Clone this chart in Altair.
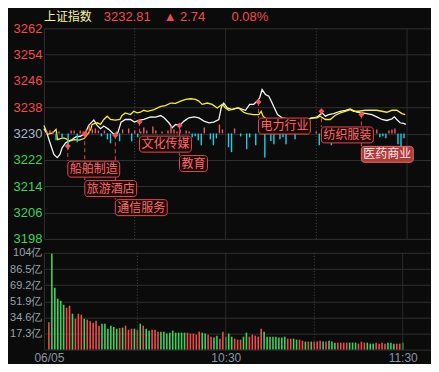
import altair as alt
import pandas as pd

# ---------------- data ----------------
header_text = ["上证指数", "3232.81", "▲ 2.74", "0.08%"]
prev_close = 3230.07
price_ticks = [3198, 3206, 3214, 3222, 3230, 3238, 3246, 3254, 3262]
vol_ticks = [0, 17.3, 34.6, 51.9, 69.2, 86.5, 104]
time_ticks = [0, 60, 120]
time_labels = ["06/05", "10:30", "11:30"]
solid_vlines = [60, 120]
dotted_vlines = [30, 90]

white_min = [0, 1.1, 2.2, 3.3, 4.4, 5.3, 6.0, 7.2, 8.2, 9.3, 10.5, 12.1, 13.7, 14.8, 16.5, 17.6, 18.7, 19.8, 21.4, 23.1,
             24.4, 25.5, 26.9, 28.6, 29.9, 31.3, 33.0, 35.3, 36.9, 38.6, 39.7, 41.3, 42.4, 43.5, 44.9, 46.3, 47.9, 49.6, 51.2, 52.9,
             54.5, 56.1, 57.8, 58.7, 59.4, 60.6, 62.2, 63.9, 64.9, 66.6, 68.0, 69.3, 70.5, 71.3, 72.1, 73.2, 74.3, 75.1, 75.9, 77.2,
             78.7, 81.4, 84.7, 88.0, 90.2, 91.9, 93.0, 94.1, 95.7, 97.9, 99.6, 101.2, 102.3, 103.4, 105.1, 106.7, 108.4, 110.0, 111.7, 113.3,
             115.0, 115.8, 116.6, 117.7, 118.8, 119.6]
white_price = [3231.5, 3229.8, 3226.7, 3223.7, 3222.7, 3223.7, 3225.7, 3227.2, 3227.7, 3228.2, 3229.0, 3229.2, 3230.2, 3232.5, 3234.1, 3232.5, 3231.5, 3232.3, 3231.3, 3229.8,
               3230.2, 3233.5, 3234.3, 3234.3, 3233.5, 3234.0, 3234.3, 3235.1, 3235.0, 3235.5, 3234.8, 3233.3, 3231.8, 3232.8, 3232.5, 3233.8, 3234.8, 3235.1, 3234.8, 3233.8,
               3233.3, 3233.5, 3234.3, 3238.3, 3239.3, 3237.8, 3237.3, 3237.8, 3237.6, 3237.1, 3238.9, 3238.9, 3239.9, 3240.9, 3243.4, 3241.9, 3241.4, 3239.9, 3238.3, 3235.8,
               3234.8, 3234.3, 3234.3, 3234.6, 3235.0, 3236.3, 3235.3, 3235.8, 3236.1, 3236.8, 3237.1, 3237.5, 3237.0, 3236.5, 3236.3, 3236.1, 3235.8, 3235.1, 3234.3, 3234.0,
               3234.5, 3235.1, 3234.3, 3233.3, 3233.1, 3232.8]

yellow_min = [0, 1.2, 2.9, 4.0, 4.5, 6.2, 7.3, 8.3, 10.0, 11.6, 13.3, 14.4, 15.5, 15.9, 17.6, 18.7, 19.8, 20.9, 22.0, 23.6,
              25.1, 25.8, 26.9, 28.6, 29.7, 30.8, 31.9, 33.0, 34.2, 36.4, 38.6, 40.2, 41.9, 43.5, 45.2, 46.8, 48.5, 50.1, 51.2, 52.3,
              54.0, 55.6, 57.3, 58.9, 60.0, 61.1, 62.7, 64.4, 66.0, 67.2, 69.3, 71.0, 71.8, 72.4, 73.8, 75.9, 79.2, 83.4, 86.9, 88.6,
              90.2, 91.3, 93.0, 94.6, 96.3, 97.9, 99.6, 101.2, 102.3, 104.0, 106.2, 108.4, 110.0, 111.7, 113.3, 115.0, 116.6, 118.3, 119.4]
yellow_price = [3232.5, 3229.8, 3230.2, 3231.3, 3228.2, 3228.7, 3228.5, 3227.7, 3228.2, 3228.0, 3228.5, 3229.8, 3231.3, 3232.8, 3233.3, 3232.8, 3234.3, 3235.3, 3234.3, 3234.1,
                3234.3, 3235.5, 3236.3, 3235.8, 3236.8, 3236.3, 3236.5, 3237.1, 3236.8, 3237.3, 3238.3, 3238.5, 3239.3, 3239.2, 3239.9, 3240.4, 3240.6, 3240.4, 3239.9, 3238.9,
                3239.3, 3238.9, 3237.8, 3238.9, 3237.8, 3237.1, 3237.5, 3237.8, 3236.5, 3236.1, 3235.8, 3235.8, 3236.8, 3235.3, 3234.3, 3234.3, 3234.3, 3234.1, 3234.3, 3234.8,
                3234.8, 3235.3, 3234.3, 3234.3, 3235.6, 3236.3, 3236.8, 3237.3, 3236.8, 3236.8, 3237.1, 3237.1, 3237.1, 3236.8, 3236.5, 3237.1, 3237.1, 3236.1, 3235.8]

strength_min = [1, 2, 3, 4, 5, 6, 8, 9, 10, 11, 12, 13, 14, 15, 16, 17, 18, 19, 20, 21, 22, 24, 25, 26, 28, 29, 30, 31, 32, 33, 34,
                36, 37, 39, 41, 42, 43, 44, 45, 47, 48, 49, 50, 51, 52, 53, 55, 56, 57, 58, 59, 61, 62, 63, 65, 67, 68, 70,
                73, 75, 76, 78, 79, 80, 83, 90, 91, 95, 110, 111, 112, 113, 114, 115, 116, 117, 118, 119]
strength_val = [0.6, 0.9, 0.6, -2.1, 0.6, -1.2, -4.8, 0.9, 0.9, -2.7, 0.9, 0.6, 1.2, 2.4, 1.2, 1.5, 0.9, -0.9, 0.9, -1.8, -3.0,
                0.6, -2.4, 1.2, 1.5, -2.4, 0.9, -1.2, 0.6, 1.8, 0.9, 2.1, 0.9, 0.6, 0.9, 2.4, 1.2, 0.6, 1.2, 0.9, 0.6, -1.2,
                -0.9, -2.1, -3.6, 1.8, -1.8, -3.6, -1.5, 2.7, 1.2, -4.2, -5.7, 1.5, -0.9, -4.8, -1.2, -3.6, -7.3, -2.3, -3.3,
                -1.8, -1.2, -3.3, -1.8, 0.6, -3.6, -3.6, 1.2, -1.2, -0.9, -1.5, 0.9, 1.2, 1.5, -3.3, -4.8, -1.5]

label_name = ["船舶制造", "旅游酒店", "通信服务", "文化传媒", "教育", "电力行业", "纺织服装", "医药商业"]
label_min = [7.9, 13.5, 23.6, 31.6, 44.8, 70.9, 91.7, 104.9]
label_price = [3226.2, 3229.8, 3229.5, 3233.6, 3232.5, 3239.6, 3236.8, 3235.8]
label_level = [3219.2, 3213.3, 3207.5, 3226.8, 3220.9, 3232.3, 3229.6, 3223.7]
label_active = [0, 0, 0, 0, 0, 0, 0, 1]

vol_minute = list(range(121))
vol_value = [29.3, 103, 66.5, 54.7, 52.5, 48.2, 45, 47.2, 38.6, 33.2, 38.6, 37.5, 33.2, 32.2, 30.4, 29, 31, 25.7, 27.9, 27.9,
             22.5, 25.7, 24.3, 22.5, 23.2, 23.6, 25.7, 21.4, 22.5, 22.5, 21.4, 27.9, 25.7,
             22.5, 20.4, 21.4, 21.4, 19.3, 19.3, 19.3, 17.2, 18.2, 20.4,
             18.2, 18.2, 18.2, 18.2, 18.2, 17.2, 17.2, 16.1, 19.3, 18.2,
             17.2, 16.1, 13.9, 12.9, 15.0, 11.8, 19.3, 13.9, 17.2, 13.9,
             11.8, 10.7, 10.7, 13.9, 18.2, 13.9, 16.1, 15.0, 13.9, 22.5,
             19.3, 13.9, 13.9, 13.9, 13.9, 12.9, 12.9, 13.9, 11.8, 11.8,
             11.8, 10.7, 10.7, 9.6, 8.6, 8.6, 8.6, 8.6, 8.6, 9.6,
             8.6, 8.6, 9.6, 8.6, 7.5, 7.5, 7.5, 7.5, 7.5, 7.5,
             7.5, 7.5, 6.4, 8.6, 7.5, 7.5, 6.4, 6.4, 7.5, 6.4,
             7.5, 6.4, 7.5, 7.5, 6.4, 6.4, 6.4, 7.5]
vol_dir = list("RGGGGGRRGRRRGRRRRRGGGGGGRGRRRGRGR"
               "GGRRRGGGGG" "GGGGRRRRRG" "GRRGGRRGGG" "RRRGGRRRRR"
               "GGGGGGGGRR" "GGRRGRGRRR" "GRGGGRRRRG" "GGRRRGGGRR" "RRGGGRRG")

# ---------------- style ----------------
BG = "#0b0b0b"
GRID = "#303030"
RED = "#f24a4a"
GREEN = "#3bd35c"
CYAN = "#16d2e4"
CJK = "Noto Sans CJK SC"
NUM = "Liberation Sans"

px_per_min = 364 / 120
plot_w = 388
price_h = 211
vol_h = 97
left_room = 35
top_room = 19
x_max = plot_w / px_per_min
pt_per_px = (price_ticks[-1] - price_ticks[0]) / price_h
box_half = 8 * pt_per_px

xscale = alt.Scale(domain=[0, x_max], nice=False, zero=False)
pscale = alt.Scale(domain=[price_ticks[0], price_ticks[-1]], nice=False, zero=False)
vscale = alt.Scale(domain=[0, vol_ticks[-1]], nice=False, zero=False)

price_axis = alt.Axis(
    values=price_ticks, title=None, grid=True, gridColor=GRID, gridWidth=1, format="d",
    domain=True, domainColor=GRID, ticks=False, labelFont=NUM, labelFontSize=13,
    labelPadding=2, labelOverlap=False,
    labelColor={"condition": [{"test": "datum.value > 3231", "value": RED},
                              {"test": "datum.value < 3229", "value": GREEN}],
                "value": "#a9b4c8"},
)
vol_axis = alt.Axis(
    values=vol_ticks, title=None, grid=True, gridColor=GRID, gridWidth=1,
    domain=True, domainColor=GRID, ticks=False, labelFont=NUM, labelFontSize=11,
    labelPadding=2, labelOverlap=False, labelColor="#9aa1ad",
    labelExpr="datum.value == 0 ? '' : datum.value + '亿'",
)
time_expr = "''"
for v, t in zip(reversed(time_ticks), reversed(time_labels)):
    time_expr = f"datum.value == {v} ? '{t}' : ({time_expr})"
time_axis = alt.Axis(
    values=time_ticks, title=None, grid=False, domain=False, ticks=False,
    labelFlush=False, labelOverlap=False, labelFont=NUM, labelFontSize=12,
    labelColor="#8d95a2", labelPadding=3, labelExpr=time_expr,
)

# ---------------- data frames ----------------
white_df = pd.DataFrame({"m": white_min, "p": white_price})
yellow_df = pd.DataFrame({"m": yellow_min, "p": yellow_price})
strength_df = pd.DataFrame({"m": strength_min, "v": strength_val})
label_df = pd.DataFrame({"m": label_min, "p": label_price, "lvl": label_level,
                         "name": label_name, "active": label_active})
vol_df = pd.DataFrame({"m": vol_minute, "v": vol_value, "d": vol_dir})
solid_df = pd.DataFrame({"m": solid_vlines})
dotted_df = pd.DataFrame({"m": dotted_vlines})


def vlines(dash, axis):
    df = dotted_df if dash else solid_df
    return alt.Chart(df).mark_rule(
        color=GRID if not dash else "#4a4a4a", strokeWidth=1,
        strokeDash=[1, 2] if dash else [1, 0]
    ).encode(x=alt.X("m:Q", scale=xscale, axis=axis))


# invisible anchor that fixes the top-left corner of the layout
anchor = alt.Chart(pd.DataFrame({"a": [0]})).mark_rule(color=BG, strokeWidth=1).encode(
    x=alt.value(-left_room), x2=alt.value(-left_room + 2), y=alt.value(-top_room)
)

# ---------------- price panel ----------------
white_line = alt.Chart(white_df).mark_line(color="#f2f2f2", strokeWidth=1.3).encode(
    x=alt.X("m:Q", scale=xscale, axis=None),
    y=alt.Y("p:Q", scale=pscale, axis=price_axis),
)
yellow_line = alt.Chart(yellow_df).mark_line(color="#f6f01c", strokeWidth=1.3).encode(
    x=alt.X("m:Q", scale=xscale, axis=None),
    y=alt.Y("p:Q", scale=pscale, axis=price_axis),
)
strength = alt.Chart(strength_df).transform_calculate(
    base=f"{prev_close}", top=f"{prev_close} + datum.v"
).mark_rule(strokeWidth=1.4).encode(
    x=alt.X("m:Q", scale=xscale, axis=None),
    y=alt.Y("base:Q", scale=pscale, axis=price_axis),
    y2="top:Q",
    color=alt.condition("datum.v > 0", alt.value("#f05a5a"), alt.value(CYAN)),
)
lab = alt.Chart(label_df).transform_calculate(
    btop=f"datum.lvl + {box_half}",
    bbot=f"datum.lvl - {box_half}",
    x2=f"datum.m + (length(datum.name) * 12 + 4) / {px_per_min}",
    xc=f"datum.m + (length(datum.name) * 12 + 4) / {px_per_min} / 2",
)
connectors = lab.mark_rule(color="#e04848", strokeWidth=1, strokeDash=[4, 3]).encode(
    x=alt.X("m:Q", scale=xscale, axis=None),
    y=alt.Y("p:Q", scale=pscale, axis=price_axis),
    y2="btop:Q",
)
markers = lab.mark_point(shape="diamond", filled=True, size=36, color="#ff5050", opacity=1).encode(
    x=alt.X("m:Q", scale=xscale, axis=None),
    y=alt.Y("p:Q", scale=pscale, axis=price_axis),
)
boxes = lab.mark_rect(cornerRadius=3, strokeWidth=1).encode(
    x=alt.X("m:Q", scale=xscale, axis=None),
    x2="x2:Q",
    y=alt.Y("btop:Q", scale=pscale, axis=price_axis),
    y2="bbot:Q",
    fill=alt.condition("datum.active == 1", alt.value("#b03a3a"), alt.value("#1c0808")),
    stroke=alt.condition("datum.active == 1", alt.value("#e46a6a"), alt.value("#e04a4a")),
)
box_text = lab.mark_text(font=CJK, fontSize=12, align="center", baseline="middle").encode(
    x=alt.X("xc:Q", scale=xscale, axis=None),
    y=alt.Y("lvl:Q", scale=pscale, axis=price_axis),
    text="name:N",
    color=alt.condition("datum.active == 1", alt.value("#ffe6e6"), alt.value("#ff6a6a")),
)

header_layers = []
for txt, col, xo, font, fs in zip(
    header_text,
    ["#f6f2a0", RED, RED, RED],
    [0, 60, 120, 188],
    [CJK, NUM, NUM, NUM],
    [12, 13, 13, 13],
):
    header_layers.append(
        alt.Chart(pd.DataFrame({"t": [txt]})).mark_text(
            align="left", baseline="middle", font=font, fontSize=fs, color=col
        ).encode(text="t:N", x=alt.value(xo), y=alt.value(-11.5))
    )

price = alt.layer(
    anchor, vlines(False, None), vlines(True, None), white_line, yellow_line, strength,
    connectors, markers, boxes, box_text, *header_layers
).properties(width=plot_w, height=price_h)

# ---------------- volume panel ----------------
bars = alt.Chart(vol_df).mark_bar(width=1.6).encode(
    x=alt.X("m:Q", scale=xscale, axis=time_axis),
    y=alt.Y("v:Q", scale=vscale, axis=vol_axis),
    color=alt.Color("d:N", scale=alt.Scale(domain=["R", "G"], range=[RED, GREEN]), legend=None),
)
volume = alt.layer(bars, vlines(False, time_axis), vlines(True, time_axis)).properties(
    width=plot_w, height=vol_h
)

chart = alt.vconcat(price, volume, spacing=14, bounds="flush").properties(
    padding=0,
    background=BG,
).configure_view(strokeWidth=0)

chart.save("out.html", embed_options={"renderer": "svg", "actions": False})
